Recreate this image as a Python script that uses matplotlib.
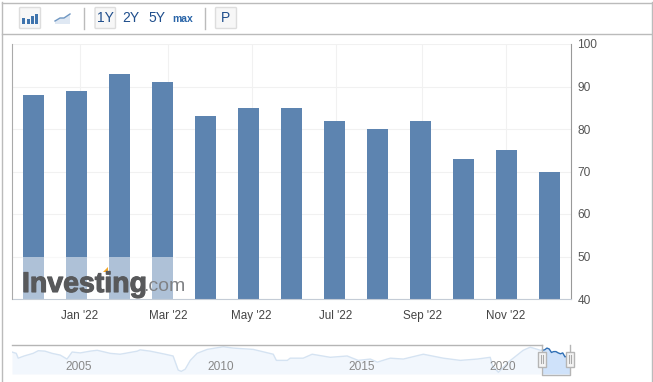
import numpy as np
import matplotlib
matplotlib.use('Agg')
import matplotlib.pyplot as plt
import matplotlib.patheffects as pe
from matplotlib.patches import Rectangle, FancyBboxPatch, Polygon

plt.rcParams['font.family'] = ['Liberation Sans', 'DejaVu Sans']

# du lieu cot theo thang
months = ["Dec '21", "Jan '22", "Feb '22", "Mar '22", "Apr '22", "May '22", "Jun '22",
          "Jul '22", "Aug '22", "Sep '22", "Oct '22", "Nov '22", "Dec '22"]
values = [88, 89, 93, 91, 83, 85, 85, 82, 80, 82, 73, 75, 70]
y_ticks = [40, 50, 60, 70, 80, 90, 100]
x_tick_pos = [1.07, 3.12, 5.07, 7.03, 9.05, 11.0]
x_tick_labels = ["Jan '22", "Mar '22", "May '22", "Jul '22", "Sep '22", "Nov '22"]

# duong lich su trong thanh navigator
hist_years = [2002.62, 2002.77, 2002.84, 2003.05, 2003.37, 2003.55, 2003.79, 2004.04, 2004.33,
              2004.57, 2004.65, 2004.75, 2005.04, 2005.39, 2005.64, 2006.10, 2006.45, 2006.63,
              2007.06, 2007.16, 2007.52, 2008.05, 2008.33, 2008.51, 2008.62, 2008.76, 2008.94,
              2009.18, 2009.54, 2010.11, 2010.46, 2011.17, 2011.88, 2011.99, 2012.38, 2012.48,
              2012.94, 2013.26, 2013.90, 2014.50, 2014.89, 2015.32, 2015.57, 2015.92, 2016.03,
              2016.49, 2017.20, 2017.91, 2018.51, 2019.11, 2019.57, 2019.65, 2019.86, 2020.21,
              2020.74, 2020.99, 2021.35]
hist_values = [84, 81, 70, 75, 81, 87, 86, 81, 77,
               68, 75, 84, 82, 86, 88, 81, 79, 81,
               86, 89, 86, 79, 75, 43, 40, 45, 65,
               81, 90, 96, 93, 90, 79, 65, 65, 70,
               70, 79, 72, 75, 65, 68, 61, 68, 70,
               68, 79, 70, 65, 68, 72, 52, 38, 61,
               88, 95, 88]
nav_ticks = [2005, 2010, 2015, 2020]

W, H = 653, 382
fig = plt.figure(figsize=(W / 100, H / 100), dpi=100, facecolor='white')

def add_axes_px(x0, y0, x1, y1):
    return fig.add_axes([x0 / W, 1 - y1 / H, (x1 - x0) / W, (y1 - y0) / H])

# bieu do chinh
bar_color = '#5d84b0'
ax = add_axes_px(12.5, 44, 570.5, 299)
x = np.arange(len(values))
ax.bar(x, [v - 40 for v in values], bottom=40, width=0.49, color=bar_color, zorder=2)
ax.set_xlim(-0.5, 12.5)
ax.set_ylim(40, 100)
ax.yaxis.tick_right()
ax.set_yticks(y_ticks)
ax.set_xticks(x_tick_pos)
ax.set_xticklabels(x_tick_labels)
ax.grid(True, color='#f1f1f1', lw=0.8, zorder=0)
ax.tick_params(axis='y', length=0, pad=5, labelsize=8.6, labelcolor='#555555')
ax.tick_params(axis='x', length=0, pad=8, labelsize=8.4, labelcolor='#444444')
ax.spines['top'].set_visible(False)
ax.spines['left'].set_color('#aaaaaa')
ax.spines['right'].set_color('#999999')
ax.spines['bottom'].set_color('#c4ccd6')

# navigator
nav = add_axes_px(12, 345, 569.5, 374)
nav.set_xlim(2002.62, 2022.38)
nav.set_ylim(34, 100)
nav.axis('off')
nav.fill_between(hist_years, hist_values, 34, color='#f2f7fd', lw=0)
nav.plot(hist_years, hist_values, color='#d5e3f2', lw=1)
sel_x = 2021.42 + x / 12 * (2022.38 - 2021.42)
nav.fill_between(sel_x, values, 34, color='#cfe2fa', lw=0)
nav.plot(sel_x, values, color='#2f6fb5', lw=1)
for yr in nav_ticks:
    nav.text(yr, 51, str(yr), fontsize=8.6, color='#888888', ha='center', va='center')

# lop phu toan hinh theo toa do pixel
ui = fig.add_axes([0, 0, 1, 1], facecolor='none')
ui.set_xlim(0, W)
ui.set_ylim(H, 0)
ui.axis('off')
ui.set_zorder(5)

# watermark
ui.add_patch(Rectangle((22, 257), 154, 41.5, color='white', alpha=0.5, lw=0))
ui.text(22, 292, 'Investing', fontsize=20.5, fontweight='bold', color='#58595b', va='baseline',
        path_effects=[pe.withStroke(linewidth=0.8, foreground='#58595b')])
ui.text(143.5, 291, '.com', fontsize=14, color='#808285', va='baseline')
ui.add_patch(Polygon([(103, 272), (108, 267), (108, 272)], color='#f5a623', lw=0))

# khung ngoai va thanh cong cu
ui.plot([1.5, 1.5], [2, H], color='#bbbbbb', lw=1)
ui.plot([1.5, 652], [2.5, 2.5], color='#bbbbbb', lw=1)
ui.plot([652, 652], [2, H], color='#bbbbbb', lw=1)
ui.plot([1.5, 652], [33.5, 33.5], color='#bbbbbb', lw=1)
for sx in [83.5, 204.5]:
    ui.plot([sx, sx], [8, 29], color='#bbbbbb', lw=1)
for bx, bw in [(19.5, 21), (95, 20.5), (215.5, 21)]:
    ui.add_patch(FancyBboxPatch((bx + 1, 8.5), bw - 2, 19, boxstyle='round,pad=1', fc='#f7f7f7',
                                ec='#dddddd', lw=1))
ui.text(105.5, 18, '1Y', fontsize=10, color='#1f4e8c', ha='center', va='center')
ui.text(131, 18, '2Y', fontsize=10, color='#1f4e8c', ha='center', va='center')
ui.text(157, 18, '5Y', fontsize=10, color='#1f4e8c', ha='center', va='center')
ui.text(183, 18.5, 'max', fontsize=7.5, fontweight='bold', color='#2a65a8', ha='center', va='center')
ui.text(226, 18, 'P', fontsize=10, color='#1f4e8c', ha='center', va='center')
# icon cot
for ix, iy in [(22, 18), (26.5, 19), (31, 16), (35, 14)]:
    ui.add_patch(Rectangle((ix, iy), 3.2, 24 - iy, color='#3f74ad', lw=0))
# icon duong
ui.add_patch(Polygon([(55, 21), (60, 18), (64, 18), (70, 14), (70, 24), (55, 24)], color='#dfe8f3', lw=0))
ui.plot([55, 60, 64, 70], [21, 18, 18, 14], color='#6f97c2', lw=1)

# khung navigator
ui.plot([12, 541.5], [344.5, 344.5], color='#b5b5b5', lw=1)
ui.plot([541.5, 541.5, 569.5, 569.5], [344.5, 374.5, 374.5, 344.5], color='#b5b5b5', lw=1)
for cx in [541.5, 569.5]:
    ui.add_patch(Rectangle((cx - 4, 351.5), 8, 15.5, fc='#f5f5f5', ec='#b5b5b5', lw=1, zorder=5))
    ui.plot([cx - 1, cx - 1], [355, 363], color='#aaaaaa', lw=0.8, zorder=6)
    ui.plot([cx + 1, cx + 1], [355, 363], color='#aaaaaa', lw=0.8, zorder=6)

fig.savefig('out.png', dpi=100)
